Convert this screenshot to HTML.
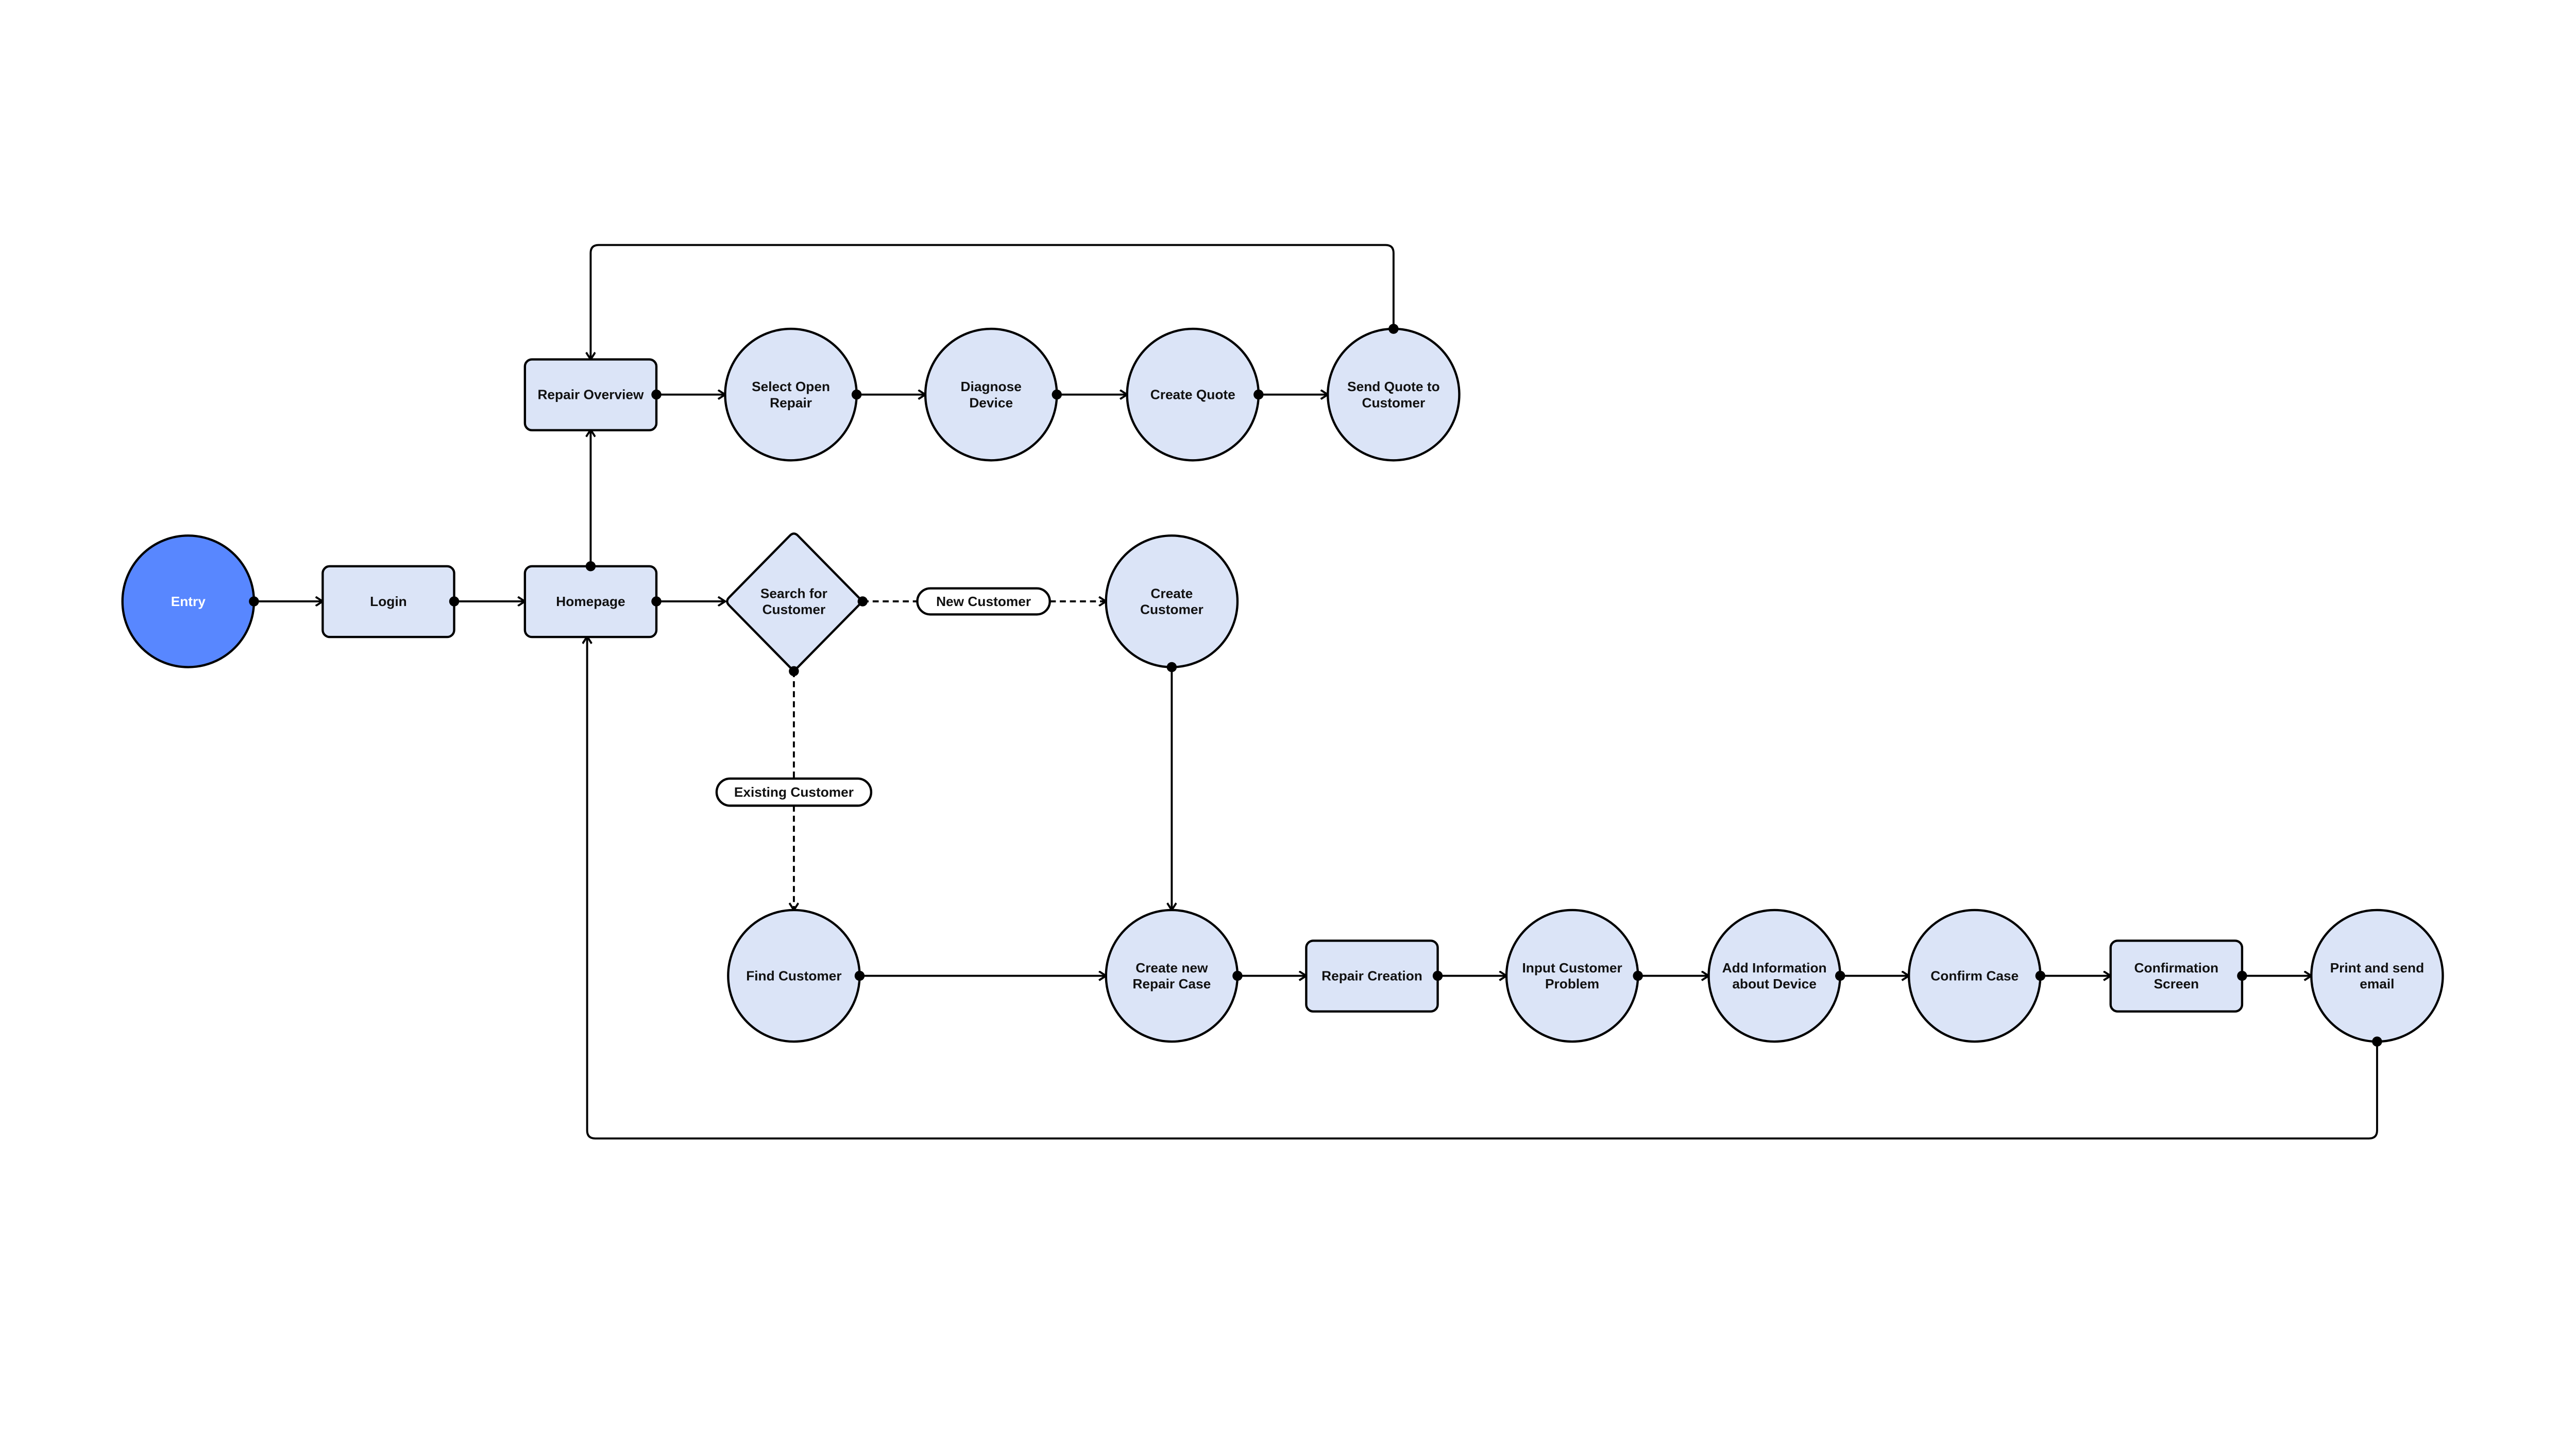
<!DOCTYPE html>
<html><head><meta charset="utf-8"><style>
html,body{margin:0;padding:0;background:#fff;}
svg{display:block;}
text{font-family:"Liberation Sans",sans-serif;font-weight:bold;font-size:27px;fill:#111;text-anchor:middle;dominant-baseline:central;}
.n{fill:#dbe4f7;stroke:#000;stroke-width:4.5;}
.l{stroke:#000;stroke-width:4;fill:none;}
.d{stroke:#000;stroke-width:4;fill:none;stroke-dasharray:12 8;}
.a{stroke:#000;stroke-width:4;fill:none;stroke-linejoin:miter;}
.p{fill:#fff;stroke:#000;stroke-width:4.5;}
</style></head><body>
<svg width="5104" height="2804" viewBox="0 0 5104 2804" xmlns="http://www.w3.org/2000/svg">
<defs>
<marker id="ar" viewBox="0 0 20 20" refX="18" refY="10" markerWidth="20" markerHeight="20" markerUnits="userSpaceOnUse" orient="auto">
<polyline points="4,1 18,10 4,19" class="a"/>
</marker>
</defs>
<g transform="translate(2,4) scale(0.974)">
<g>
<path class="l" d="M504 1194 H641" marker-end="url(#ar)"/>
<path class="l" d="M903 1194 H1044" marker-end="url(#ar)"/>
<path class="l" d="M1306 1194 H1443" marker-end="url(#ar)"/>
<path class="d" d="M1717 1194 H1826"/>
<path class="d" d="M2090 1194 H2202" marker-end="url(#ar)"/>
<path class="d" d="M1580 1333 V1547"/>
<path class="d" d="M1580 1601 V1809" marker-end="url(#ar)"/>
<path class="l" d="M2333 1325 V1809" marker-end="url(#ar)"/>
<path class="l" d="M1711 1940 H2202" marker-end="url(#ar)"/>
<path class="l" d="M2464 1940 H2601" marker-end="url(#ar)"/>
<path class="l" d="M2863 1940 H3000" marker-end="url(#ar)"/>
<path class="l" d="M3262 1940 H3403" marker-end="url(#ar)"/>
<path class="l" d="M3665 1940 H3802" marker-end="url(#ar)"/>
<path class="l" d="M4064 1940 H4204" marker-end="url(#ar)"/>
<path class="l" d="M4466 1940 H4604" marker-end="url(#ar)"/>
<path class="l" d="M1306 782 H1443" marker-end="url(#ar)"/>
<path class="l" d="M1705 782 H1842" marker-end="url(#ar)"/>
<path class="l" d="M2104 782 H2244" marker-end="url(#ar)"/>
<path class="l" d="M2506 782 H2644" marker-end="url(#ar)"/>
<path class="l" d="M1175 1124 V852" marker-end="url(#ar)"/>
<path class="l" d="M2775 651 V500 Q2775 484 2759 484 H1191 Q1175 484 1175 500 V712" marker-end="url(#ar)"/>
<path class="l" d="M4735 2071 V2248 Q4735 2264 4719 2264 H1184 Q1168 2264 1168 2248 V1264" marker-end="url(#ar)"/>
</g>

<circle cx="373" cy="1194" r="131" fill="#5887ff" stroke="#000" stroke-width="4.5"/>
<text x="373" y="1194" style="fill:#fff">Entry</text>

<rect class="n" x="641" y="1124" width="262" height="141" rx="14"/>
<text x="772" y="1194">Login</text>
<rect class="n" x="1044" y="1124" width="262" height="141" rx="14"/>
<text x="1175" y="1194">Homepage</text>
<rect class="n" x="1044" y="712" width="262" height="141" rx="14"/>
<text x="1175" y="782">Repair Overview</text>

<path class="n" d="M1572 1063 Q1580 1055 1588 1063 L1709 1186 Q1717 1194 1709 1202 L1588 1325 Q1580 1333 1572 1325 L1451 1202 Q1443 1194 1451 1186 Z"/>
<text x="1580" y="1178">Search for</text><text x="1580" y="1210">Customer</text>

<rect class="p" x="1826" y="1168" width="264" height="52" rx="26"/>
<text x="1958" y="1194">New Customer</text>
<rect class="p" x="1426" y="1547" width="308" height="54" rx="27"/>
<text x="1580" y="1574">Existing Customer</text>

<circle class="n" cx="2333" cy="1194" r="131"/>
<text x="2333" y="1178">Create</text><text x="2333" y="1210">Customer</text>

<circle class="n" cx="1574" cy="782" r="131"/>
<text x="1574" y="766">Select Open</text><text x="1574" y="798">Repair</text>
<circle class="n" cx="1973" cy="782" r="131"/>
<text x="1973" y="766">Diagnose</text><text x="1973" y="798">Device</text>
<circle class="n" cx="2375" cy="782" r="131"/>
<text x="2375" y="782">Create Quote</text>
<circle class="n" cx="2775" cy="782" r="131"/>
<text x="2775" y="766">Send Quote to</text><text x="2775" y="798">Customer</text>

<circle class="n" cx="1580" cy="1940" r="131"/>
<text x="1580" y="1940">Find Customer</text>
<circle class="n" cx="2333" cy="1940" r="131"/>
<text x="2333" y="1924">Create new</text><text x="2333" y="1956">Repair Case</text>
<rect class="n" x="2601" y="1870" width="262" height="141" rx="14"/>
<text x="2732" y="1940">Repair Creation</text>
<circle class="n" cx="3131" cy="1940" r="131"/>
<text x="3131" y="1924">Input Customer</text><text x="3131" y="1956">Problem</text>
<circle class="n" cx="3534" cy="1940" r="131"/>
<text x="3534" y="1924">Add Information</text><text x="3534" y="1956">about Device</text>
<circle class="n" cx="3933" cy="1940" r="131"/>
<text x="3933" y="1940">Confirm Case</text>
<rect class="n" x="4204" y="1870" width="262" height="141" rx="14"/>
<text x="4335" y="1924">Confirmation</text><text x="4335" y="1956">Screen</text>
<circle class="n" cx="4735" cy="1940" r="131"/>
<text x="4735" y="1924">Print and send</text><text x="4735" y="1956">email</text>

<g fill="#000">
<circle cx="504" cy="1194" r="10"/><circle cx="903" cy="1194" r="10"/><circle cx="1306" cy="1194" r="10"/>
<circle cx="1717" cy="1194" r="10"/><circle cx="1580" cy="1333" r="10"/><circle cx="2333" cy="1325" r="10"/>
<circle cx="1711" cy="1940" r="10"/><circle cx="2464" cy="1940" r="10"/><circle cx="2863" cy="1940" r="10"/>
<circle cx="3262" cy="1940" r="10"/><circle cx="3665" cy="1940" r="10"/><circle cx="4064" cy="1940" r="10"/>
<circle cx="4466" cy="1940" r="10"/><circle cx="4735" cy="2071" r="10"/>
<circle cx="1306" cy="782" r="10"/><circle cx="1705" cy="782" r="10"/><circle cx="2104" cy="782" r="10"/>
<circle cx="2506" cy="782" r="10"/><circle cx="2775" cy="651" r="10"/><circle cx="1175" cy="1124" r="10"/>
</g>
</g>
</svg>
</body></html>
